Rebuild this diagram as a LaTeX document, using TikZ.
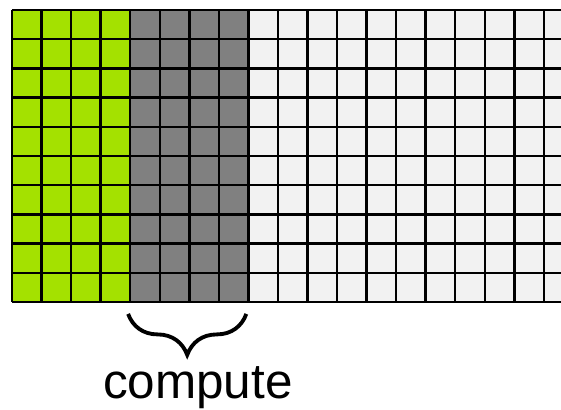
\documentclass[tikz,border=0pt]{standalone}
\usepackage{fontspec}
\setmainfont{Liberation Sans}
\usepackage{tikz}
\usetikzlibrary{decorations.pathreplacing}
\definecolor{donegreen}{RGB}{164,225,0}
\definecolor{busygray}{RGB}{128,128,128}
\definecolor{idlewhite}{RGB}{242,242,242}

\begin{document}
\begin{tikzpicture}[x=0.7565cm,y=0.7475cm]
		\useasboundingbox (-0.406,-13.70) rectangle (18.58,0.342);
		\clip (-0.406,-13.70) rectangle (18.58,0.342);
		\fill[idlewhite] (8,-10) rectangle (19,0);
		\fill[donegreen] (0,-10) rectangle (4,0);
		\fill[busygray] (4,-10) rectangle (8,0);
		\foreach \i in {0,...,19}{
		\draw[line width=1.8pt] (\i,0) -- (\i,-10);
		}
		\foreach \j in {0,...,10}{
		\draw[line width=1.8pt] (0,-\j) -- (19,-\j);
		}
		\draw[line width=2.8pt,decorate,decoration={brace,mirror,amplitude=1.05cm}] (3.93,-10.41) -- (7.93,-10.41);
		\node[anchor=base,font=\fontsize{36}{43}\selectfont] (compute) at (6.29,-13.32) {compute};
	       \end{tikzpicture}
\end{document}
